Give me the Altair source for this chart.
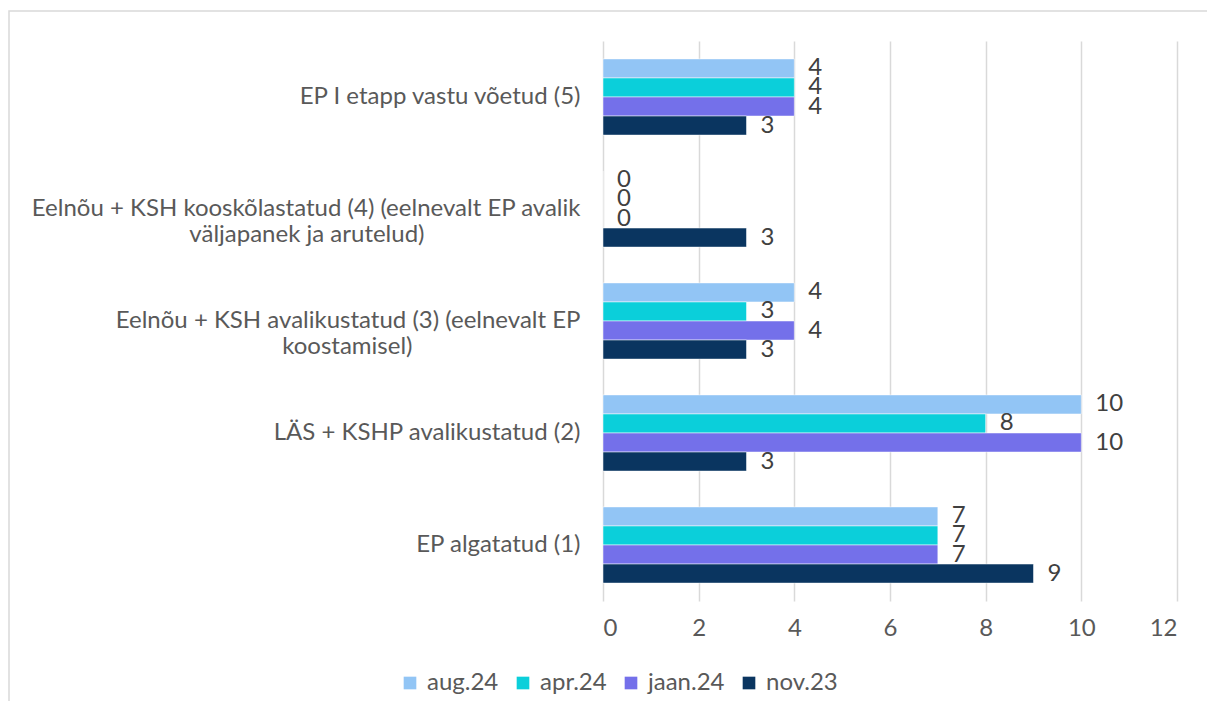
import altair as alt
import pandas as pd

EN = "\u2002"
ZW = "\u200b"
categories = [
    "EP I etapp vastu võetud (5)",
    "Eelnõu + KSH kooskõlastatud (4) (eelnevalt EP avalik\nväljapanek ja arutelud)" + EN * 13 + ZW,
    "Eelnõu + KSH avalikustatud (3) (eelnevalt EP\nkoostamisel)" + EN * 14 + ZW,
    "LÄS + KSHP avalikustatud (2)",
    "EP algatatud (1)",
]
series = ["aug.24", "apr.24", "jaan.24", "nov.23"]
colors = ["#92C5F5", "#0BCFDA", "#7470EA", "#0A3560"]
values = {
    "aug.24": [4, 0, 4, 10, 7],
    "apr.24": [4, 0, 3, 8, 7],
    "jaan.24": [4, 0, 4, 10, 7],
    "nov.23": [3, 3, 3, 3, 9],
}
x_ticks = [0, 2, 4, 6, 8, 10, 12]

rows = []
for s in series:
    for c, v in zip(categories, values[s]):
        rows.append({"cat": c, "series": s, "value": v})
df = pd.DataFrame(rows)

FONT = "Lato"
GRAY = "#595959"
FS = 24

y_enc = alt.Y(
    "cat:N",
    sort=categories,
    scale=alt.Scale(paddingInner=0.32, paddingOuter=0.16),
    axis=alt.Axis(
        title=None, ticks=False, domain=False, labelFontSize=FS, labelColor=GRAY,
        labelFont=FONT, labelPadding=23, labelLimit=800,
        labelExpr="split(datum.label, '\\n')", labelLineHeight=26,
    ),
)
yoff = alt.YOffset("series:N", sort=series, scale=alt.Scale(paddingInner=0, paddingOuter=0))
x_enc = alt.X(
    "value:Q",
    scale=alt.Scale(domain=[0, 12], nice=False),
    axis=alt.Axis(
        title=None, values=x_ticks, ticks=False, domain=False, grid=True,
        gridColor="#D9D9D9", gridWidth=1.5, labelFontSize=FS, labelColor=GRAY,
        labelFont=FONT, labelPadding=15,
    ),
)

frame = alt.Chart(pd.DataFrame({"f": [0]})).mark_rect(
    fillOpacity=0, stroke="#D9D9D9", strokeWidth=1.5
).encode(
    x=alt.value(-594), x2=alt.value(700), y=alt.value(-30), y2=alt.value(700)
)

bars = alt.Chart(df).mark_bar(stroke="white", strokeWidth=0.5).encode(
    y=y_enc,
    yOffset=yoff,
    x=x_enc,
    color=alt.Color(
        "series:N",
        sort=series,
        scale=alt.Scale(domain=series, range=colors),
        legend=alt.Legend(
            title=None, orient="none", legendX=-205, legendY=630, direction="horizontal",
            symbolType="square", symbolSize=160, symbolStrokeWidth=0, labelFontSize=FS,
            labelColor=GRAY, labelFont=FONT, labelOffset=5, columnPadding=12,
        ),
    ),
)

labels = alt.Chart(df).mark_text(
    align="left", baseline="middle", dx=14, fontSize=FS, font=FONT, color="#404040"
).encode(
    y=alt.Y("cat:N", sort=categories),
    yOffset=alt.YOffset("series:N", sort=series),
    x="value:Q",
    text="value:Q",
)

chart = (
    alt.layer(frame, bars, labels)
    .properties(
        width=574, height=560,
        autosize=alt.AutoSizeParams(type="none"),
        padding={"left": 595, "top": 33, "right": 30, "bottom": 100},
        background="white",
    )
    .configure_view(stroke=None)
)

chart.save("out.html", embed_options={"renderer": "svg", "actions": False})
